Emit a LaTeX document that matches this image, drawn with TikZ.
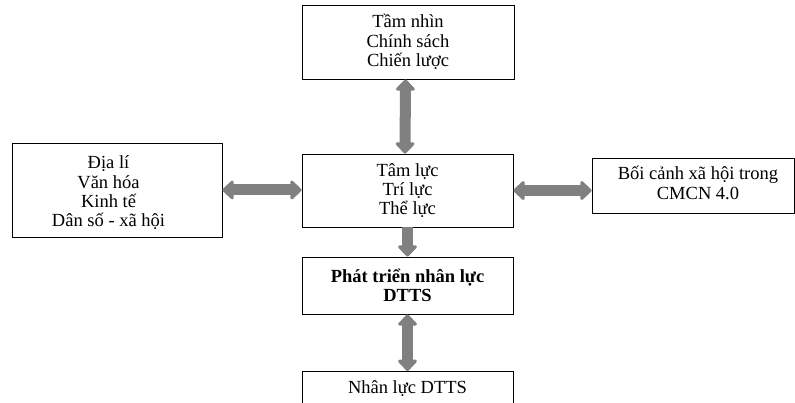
\documentclass[tikz,border=0pt]{standalone}
\usepackage{fontspec}
\setmainfont{Liberation Serif}
\usetikzlibrary{arrows.meta}
\definecolor{arrowgray}{HTML}{808080}
\tikzset{
  box/.style={draw=black, line width=0.8pt, fill=white, align=center, inner sep=0pt,
    font=\fontsize{18.5}{19.3}\selectfont},
  fatarrow/.style={draw=arrowgray, line width=11pt,
    {Triangle[length=12pt,width=22pt,round]}-{Triangle[length=12pt,width=22pt,round]}},
  fatsingle/.style={draw=arrowgray, line width=11pt,
    -{Triangle[length=12pt,width=22pt,round]}},
}
\begin{document}
\begin{tikzpicture}[x=1pt,y=-1pt]
\clip (0,0) rectangle (795,403);
\fill[white] (0,0) rectangle (795,403);
\node[box, minimum width=212pt, minimum height=74pt] (top) at (408,42)
  {Tầm nhìn\\Chính sách\\Chiến lược};
\node[box, minimum width=211pt, minimum height=73pt] (mid) at (407.5,190.5)
  {Tâm lực\\Trí lực\\Thể lực};
\node[box, minimum width=210pt, minimum height=94pt] (left) at (117,190)
  {\raisebox{0pt}[\dimexpr\height+8pt\relax][\depth]{\begin{tabular}{@{}c@{}}Địa lí\\Văn hóa\\Kinh tế\\Dân số - xã hội\end{tabular}}\hspace*{17pt}};
\node[box, minimum width=202pt, minimum height=55pt] (right) at (693,185.5)
  {\hspace*{10pt}\begin{tabular}{@{}c@{}}Bối cảnh xã hội trong\\CMCN 4.0\end{tabular}};
\node[box, minimum width=211pt, minimum height=57pt, font=\fontsize{18.5}{19.3}\selectfont\bfseries] (dev) at (407.5,285.5)
  {Phát triển nhân lực\\DTTS};
\node[box, anchor=north, minimum width=211pt, inner ysep=8pt, text height=14pt, text depth=40pt] (bottom) at (407.5,371)
  {Nhân lực DTTS};
\draw[fatarrow] ([xshift=-2.5pt]top.south) -- ([xshift=-2.5pt]mid.north);
\draw[fatarrow] (left.east) -- (left.east -| mid.west);
\draw[fatarrow] (mid.east) -- (mid.east -| right.west);
\draw[fatsingle] (mid.south) -- (dev.north);
\draw[fatarrow] (dev.south) -- (bottom.north);
\end{tikzpicture}
\end{document}
